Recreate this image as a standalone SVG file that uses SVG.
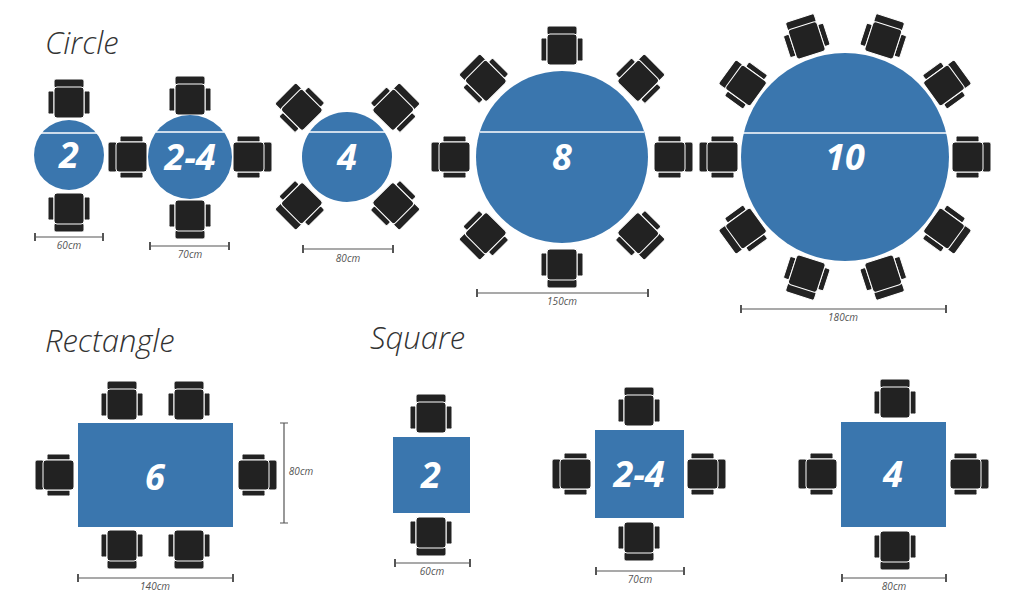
<svg xmlns="http://www.w3.org/2000/svg" xmlns:xlink="http://www.w3.org/1999/xlink" width="1020" height="606" viewBox="0 0 1020 606">
<style>
.t{fill:#3a76ae}
.n{fill:#fff;font-family:"Open Sans",sans-serif;font-weight:bold;font-style:italic;font-size:36px;text-anchor:middle}
.h{fill:#333;font-family:"Open Sans",sans-serif;font-weight:300;font-style:italic;font-size:31px}
.d{stroke:#555;stroke-width:1.2;fill:none}
.l{fill:#555;font-family:"Open Sans",sans-serif;font-style:italic;font-size:10px;text-anchor:middle}
.c{fill:#222;stroke:#fff;stroke-width:1}
.ch{stroke:#fff;stroke-width:1.5}
</style>
<defs>
<g id="chair">
<rect class="c" x="-15" y="-21" width="30" height="9" rx="2"/>
<rect class="c" x="-21" y="-9" width="6" height="23" rx="1.5"/>
<rect class="c" x="15" y="-9" width="6" height="23" rx="1.5"/>
<rect class="c" x="-15" y="-13" width="30" height="31" rx="3"/>
</g>
<marker id="tk" viewBox="0 0 2 8" refX="1" refY="4" markerWidth="2" markerHeight="8" markerUnits="userSpaceOnUse"><rect width="2" height="8" fill="#555"/></marker>
</defs>
<text class="h" x="45" y="54">Circle</text>
<text class="h" x="45" y="352">Rectangle</text>
<text class="h" x="370" y="349">Square</text>

<g id="c2">
<use href="#chair" x="69" y="100"/>
<use href="#chair" transform="translate(69,211) rotate(180)"/>
<circle class="t" cx="69" cy="155" r="35"/>
<line class="ch" x1="41" y1="133" x2="97" y2="133"/>
<text class="n" x="69" y="168">2</text>
</g>
<g id="c24">
<use href="#chair" x="190" y="97"/>
<use href="#chair" transform="translate(190,218) rotate(180)"/>
<use href="#chair" transform="translate(129,157) rotate(-90)"/>
<use href="#chair" transform="translate(251,157) rotate(90)"/>
<circle class="t" cx="190" cy="157" r="42"/>
<line class="ch" x1="156" y1="132" x2="224" y2="132"/>
<text class="n" x="190" y="170">2-4</text>
</g>
<g id="c4">
<use href="#chair" transform="translate(300,108) rotate(-45)"/>
<use href="#chair" transform="translate(395,108) rotate(45)"/>
<use href="#chair" transform="translate(300,205) rotate(-135)"/>
<use href="#chair" transform="translate(395,205) rotate(135)"/>
<circle class="t" cx="347" cy="157" r="45"/>
<line class="ch" x1="309" y1="132" x2="385" y2="132"/>
<text class="n" x="347" y="170">4</text>
</g>
<g id="c8">
<use href="#chair" transform="translate(562,47) rotate(0)"/>
<use href="#chair" transform="translate(640,79) rotate(45)"/>
<use href="#chair" transform="translate(672,157) rotate(90)"/>
<use href="#chair" transform="translate(640,235) rotate(135)"/>
<use href="#chair" transform="translate(562,267) rotate(180)"/>
<use href="#chair" transform="translate(484,235) rotate(225)"/>
<use href="#chair" transform="translate(452,157) rotate(270)"/>
<use href="#chair" transform="translate(484,79) rotate(315)"/>
<circle class="t" cx="562" cy="157" r="86"/>
<line class="ch" x1="480" y1="132" x2="644" y2="132"/>
<text class="n" x="562" y="170">8</text>
</g>
<g id="c10">
<use href="#chair" transform="translate(806,38) rotate(-18)"/>
<use href="#chair" transform="translate(884,38) rotate(18)"/>
<use href="#chair" transform="translate(946,84) rotate(54)"/>
<use href="#chair" transform="translate(970,157) rotate(90)"/>
<use href="#chair" transform="translate(946,230) rotate(126)"/>
<use href="#chair" transform="translate(884,276) rotate(162)"/>
<use href="#chair" transform="translate(806,276) rotate(198)"/>
<use href="#chair" transform="translate(744,230) rotate(234)"/>
<use href="#chair" transform="translate(720,157) rotate(270)"/>
<use href="#chair" transform="translate(744,84) rotate(306)"/>
<circle class="t" cx="845" cy="157" r="104"/>
<line class="ch" x1="743" y1="133" x2="947" y2="133"/>
<text class="n" x="845" y="170">10</text>
</g>
<g id="r6">
<use href="#chair" x="122" y="402"/>
<use href="#chair" x="189" y="402"/>
<use href="#chair" transform="translate(122,548) rotate(180)"/>
<use href="#chair" transform="translate(189,548) rotate(180)"/>
<use href="#chair" transform="translate(56,475) rotate(-90)"/>
<use href="#chair" transform="translate(256,475) rotate(90)"/>
<rect class="t" x="78" y="423" width="155" height="104"/>
<text class="n" x="155" y="490">6</text>
</g>
<g id="s2">
<use href="#chair" x="431" y="415"/>
<use href="#chair" transform="translate(431,535) rotate(180)"/>
<rect class="t" x="393" y="437" width="77" height="76"/>
<text class="n" x="431" y="488">2</text>
</g>
<g id="s24">
<use href="#chair" x="639" y="408"/>
<use href="#chair" transform="translate(639,540) rotate(180)"/>
<use href="#chair" transform="translate(573,474) rotate(-90)"/>
<use href="#chair" transform="translate(705,474) rotate(90)"/>
<rect class="t" x="595" y="430" width="89" height="88"/>
<text class="n" x="639" y="487">2-4</text>
</g>
<g id="s4">
<use href="#chair" x="895" y="400"/>
<use href="#chair" transform="translate(895,549) rotate(180)"/>
<use href="#chair" transform="translate(819,474) rotate(-90)"/>
<use href="#chair" transform="translate(968,474) rotate(90)"/>
<rect class="t" x="841" y="422" width="105" height="105"/>
<text class="n" x="893" y="487">4</text>
</g>
<g id="connectors">
<path class="d" marker-start="url(#tk)" marker-end="url(#tk)" d="M35 237H103"/>
<path class="d" marker-start="url(#tk)" marker-end="url(#tk)" d="M150 246H229"/>
<path class="d" marker-start="url(#tk)" marker-end="url(#tk)" d="M303 249H393"/>
<path class="d" marker-start="url(#tk)" marker-end="url(#tk)" d="M477 293H648"/>
<path class="d" marker-start="url(#tk)" marker-end="url(#tk)" d="M741 309H946"/>
<path class="d" marker-start="url(#tk)" marker-end="url(#tk)" d="M78 578H233"/>
<path class="d" d="M284 423V523M280 423H288M280 523H288"/>
<path class="d" marker-start="url(#tk)" marker-end="url(#tk)" d="M395 563H470"/>
<path class="d" marker-start="url(#tk)" marker-end="url(#tk)" d="M596 571H684"/>
<path class="d" marker-start="url(#tk)" marker-end="url(#tk)" d="M842 578H946"/>
</g>
<text class="l" x="69" y="249">60cm</text>
<text class="l" x="190" y="258">70cm</text>
<text class="l" x="348" y="262">80cm</text>
<text class="l" x="562" y="305">150cm</text>
<text class="l" x="843" y="321">180cm</text>
<text class="l" x="155" y="590">140cm</text>
<text class="l" x="301" y="475">80cm</text>
<text class="l" x="432" y="575">60cm</text>
<text class="l" x="640" y="583">70cm</text>
<text class="l" x="894" y="590">80cm</text>
</svg>
